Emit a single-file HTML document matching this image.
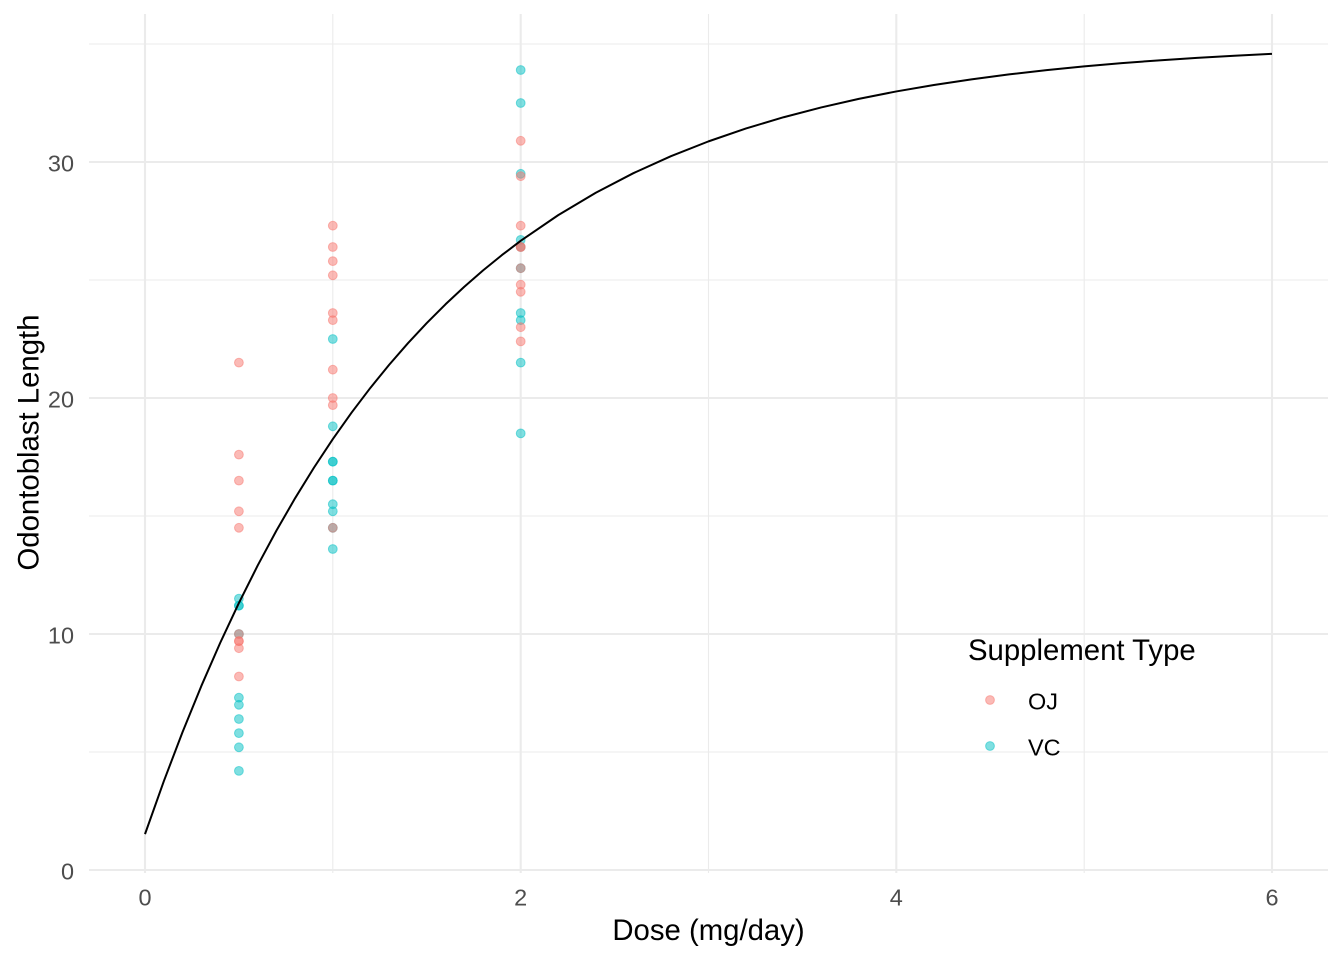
<!DOCTYPE html>
<html><head><meta charset="utf-8"><style>
html,body{margin:0;padding:0;background:#fff;}
svg{display:block;}
text{font-family:"Liberation Sans",Arial,sans-serif;}
</style></head><body>
<svg width="1344" height="960" viewBox="0 0 1344 960" xmlns="http://www.w3.org/2000/svg">
<rect width="1344" height="960" fill="#fff"/>
<!-- minor grid -->
<g stroke="#EBEBEB" stroke-width="1.1" fill="none">
<line x1="89" y1="752" x2="1328" y2="752"/>
<line x1="89" y1="516" x2="1328" y2="516"/>
<line x1="89" y1="280" x2="1328" y2="280"/>
<line x1="89" y1="44" x2="1328" y2="44"/>
<line x1="332.8" y1="14" x2="332.8" y2="873"/>
<line x1="708.5" y1="14" x2="708.5" y2="873"/>
<line x1="1084.2" y1="14" x2="1084.2" y2="873"/>
</g>
<!-- major grid -->
<g stroke="#EBEBEB" stroke-width="2.1" fill="none">
<line x1="89" y1="870" x2="1328" y2="870"/>
<line x1="89" y1="634" x2="1328" y2="634"/>
<line x1="89" y1="398" x2="1328" y2="398"/>
<line x1="89" y1="162" x2="1328" y2="162"/>
<line x1="145" y1="14" x2="145" y2="873"/>
<line x1="520.7" y1="14" x2="520.7" y2="873"/>
<line x1="896.3" y1="14" x2="896.3" y2="873"/>
<line x1="1272" y1="14" x2="1272" y2="873"/>
</g>
<!-- VC points -->
<g fill="#00BFC4" fill-opacity="0.5" stroke="#00BFC4" stroke-opacity="0.5" stroke-width="1">
<circle cx="238.9" cy="770.9" r="4.4"/>
<circle cx="238.9" cy="598.6" r="4.4"/>
<circle cx="238.9" cy="697.7" r="4.4"/>
<circle cx="238.9" cy="733.1" r="4.4"/>
<circle cx="238.9" cy="719.0" r="4.4"/>
<circle cx="238.9" cy="634.0" r="4.4"/>
<circle cx="238.9" cy="605.7" r="4.4"/>
<circle cx="238.9" cy="605.7" r="4.4"/>
<circle cx="238.9" cy="747.3" r="4.4"/>
<circle cx="238.9" cy="704.8" r="4.4"/>
<circle cx="332.8" cy="480.6" r="4.4"/>
<circle cx="332.8" cy="480.6" r="4.4"/>
<circle cx="332.8" cy="511.3" r="4.4"/>
<circle cx="332.8" cy="461.7" r="4.4"/>
<circle cx="332.8" cy="339.0" r="4.4"/>
<circle cx="332.8" cy="461.7" r="4.4"/>
<circle cx="332.8" cy="549.0" r="4.4"/>
<circle cx="332.8" cy="527.8" r="4.4"/>
<circle cx="332.8" cy="426.3" r="4.4"/>
<circle cx="332.8" cy="504.2" r="4.4"/>
<circle cx="520.7" cy="313.0" r="4.4"/>
<circle cx="520.7" cy="433.4" r="4.4"/>
<circle cx="520.7" cy="70.0" r="4.4"/>
<circle cx="520.7" cy="268.2" r="4.4"/>
<circle cx="520.7" cy="247.0" r="4.4"/>
<circle cx="520.7" cy="103.0" r="4.4"/>
<circle cx="520.7" cy="239.9" r="4.4"/>
<circle cx="520.7" cy="362.6" r="4.4"/>
<circle cx="520.7" cy="320.1" r="4.4"/>
<circle cx="520.7" cy="173.8" r="4.4"/>
</g>
<!-- OJ points -->
<g fill="#F8766D" fill-opacity="0.5" stroke="#F8766D" stroke-opacity="0.5" stroke-width="1">
<circle cx="238.9" cy="511.3" r="4.4"/>
<circle cx="238.9" cy="362.6" r="4.4"/>
<circle cx="238.9" cy="454.6" r="4.4"/>
<circle cx="238.9" cy="641.1" r="4.4"/>
<circle cx="238.9" cy="527.8" r="4.4"/>
<circle cx="238.9" cy="634.0" r="4.4"/>
<circle cx="238.9" cy="676.5" r="4.4"/>
<circle cx="238.9" cy="648.2" r="4.4"/>
<circle cx="238.9" cy="480.6" r="4.4"/>
<circle cx="238.9" cy="641.1" r="4.4"/>
<circle cx="332.8" cy="405.1" r="4.4"/>
<circle cx="332.8" cy="320.1" r="4.4"/>
<circle cx="332.8" cy="313.0" r="4.4"/>
<circle cx="332.8" cy="247.0" r="4.4"/>
<circle cx="332.8" cy="398.0" r="4.4"/>
<circle cx="332.8" cy="275.3" r="4.4"/>
<circle cx="332.8" cy="261.1" r="4.4"/>
<circle cx="332.8" cy="369.7" r="4.4"/>
<circle cx="332.8" cy="527.8" r="4.4"/>
<circle cx="332.8" cy="225.7" r="4.4"/>
<circle cx="520.7" cy="268.2" r="4.4"/>
<circle cx="520.7" cy="247.0" r="4.4"/>
<circle cx="520.7" cy="341.4" r="4.4"/>
<circle cx="520.7" cy="291.8" r="4.4"/>
<circle cx="520.7" cy="284.7" r="4.4"/>
<circle cx="520.7" cy="140.8" r="4.4"/>
<circle cx="520.7" cy="247.0" r="4.4"/>
<circle cx="520.7" cy="225.7" r="4.4"/>
<circle cx="520.7" cy="176.2" r="4.4"/>
<circle cx="520.7" cy="327.2" r="4.4"/>
</g>
<!-- fitted curve -->
<polyline fill="none" stroke="#000" stroke-width="2" stroke-linejoin="round" points="145,834.13 163.78,781.30 182.57,731.98 201.35,685.95 220.13,642.99 238.92,602.89 257.70,565.46 276.48,530.53 295.26,497.92 314.05,467.49 332.83,439.09 351.61,412.57 370.40,387.83 389.18,364.73 407.96,343.17 426.75,323.05 445.53,304.27 464.31,286.73 483.09,270.38 501.88,255.10 520.66,240.84 558.23,215.12 595.79,192.71 633.36,173.19 670.92,156.18 708.49,141.37 746.06,128.46 783.62,117.22 821.19,107.42 858.75,98.89 896.32,91.45 933.89,84.97 971.45,79.33 1009.02,74.41 1046.58,70.13 1084.15,66.40 1121.72,63.15 1159.28,60.32 1196.85,57.85 1234.41,55.70 1271.98,53.83"/>
<!-- y tick labels -->
<g fill="#4D4D4D" font-size="23.47" text-anchor="end">
<text x="74" y="879.3">0</text>
<text x="74" y="643.3">10</text>
<text x="74" y="407.3">20</text>
<text x="74" y="171.3">30</text>
</g>
<!-- x tick labels -->
<g fill="#4D4D4D" font-size="23.47" text-anchor="middle">
<text x="145" y="905.7">0</text>
<text x="520.7" y="905.7">2</text>
<text x="896.3" y="905.7">4</text>
<text x="1272" y="905.7">6</text>
</g>
<!-- axis titles -->
<text x="708.5" y="940" font-size="29.33" text-anchor="middle" fill="#000">Dose (mg/day)</text>
<text transform="translate(38.5,442.5) rotate(-90)" font-size="29.33" text-anchor="middle" fill="#000">Odontoblast Length</text>
<!-- legend -->
<text x="968" y="660" font-size="29.33" fill="#000">Supplement Type</text>
<circle cx="990" cy="700" r="4.4" fill="#F8766D" fill-opacity="0.5" stroke="#F8766D" stroke-opacity="0.5" stroke-width="1"/>
<circle cx="990" cy="746" r="4.4" fill="#00BFC4" fill-opacity="0.5" stroke="#00BFC4" stroke-opacity="0.5" stroke-width="1"/>
<text x="1028" y="709.3" font-size="23.47" fill="#000">OJ</text>
<text x="1028" y="755.3" font-size="23.47" fill="#000">VC</text>
</svg>
</body></html>
